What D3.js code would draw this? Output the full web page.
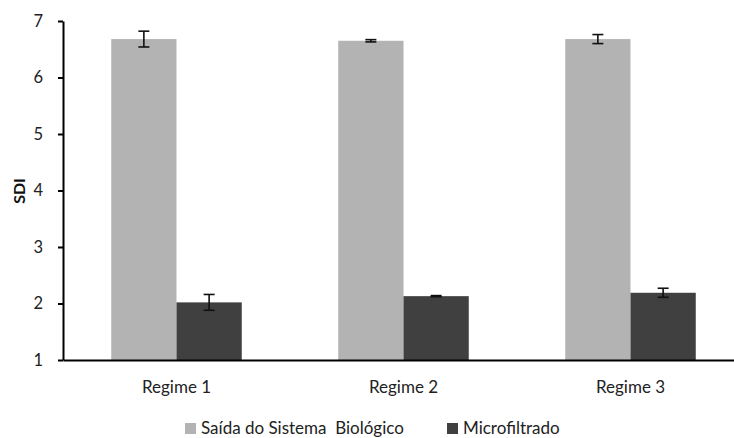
<!DOCTYPE html>
<html>
<head>
<meta charset="utf-8">
<script src="https://cdn.jsdelivr.net/npm/d3@7"></script>
<style>
  html, body { margin: 0; padding: 0; background: #fff; }
  text { font-family: Lato, "Open Sans", "Liberation Sans", sans-serif; }
</style>
</head>
<body>
<svg id="chart" width="734" height="438"></svg>
<script>
// SDI per operating regime, for the biological system outlet and the microfiltered stream
const categories = ["Regime 1", "Regime 2", "Regime 3"];
const seriesNames = ["Saída do Sistema  Biológico", "Microfiltrado"];
const saidaValues = [6.68, 6.65, 6.68];
const saidaErrors = [0.14, 0.02, 0.08];
const microValues = [2.02, 2.13, 2.19];
const microErrors = [0.14, 0.01, 0.08];
const yTicks = [1, 2, 3, 4, 5, 6, 7];
const colors = ["#b3b3b3", "#404040"];

const svg = d3.select("#chart");
const plotLeft = 63, plotRight = 744, plotTop = 21, plotBottom = 360;

const x0 = d3.scaleBand().domain(categories).range([plotLeft, plotRight]).paddingInner(0.425).paddingOuter(0.2125);
const x1 = d3.scaleBand().domain(seriesNames).range([0, x0.bandwidth()]);
const y = d3.scaleLinear().domain([1, 7]).range([plotBottom, plotTop]);

const rows = categories.map((c, i) => ({
  cat: c,
  items: [
    { name: seriesNames[0], v: saidaValues[i], e: saidaErrors[i], color: colors[0] },
    { name: seriesNames[1], v: microValues[i], e: microErrors[i], color: colors[1] }
  ]
}));

// bars
const groups = svg.append("g").selectAll("g").data(rows).join("g")
  .attr("transform", d => `translate(${x0(d.cat)},0)`);

groups.selectAll("rect").data(d => d.items).join("rect")
  .attr("x", d => x1(d.name))
  .attr("y", d => y(d.v))
  .attr("width", x1.bandwidth())
  .attr("height", d => y(1) - y(d.v))
  .attr("fill", d => d.color);

// error bars
const err = groups.selectAll("g.err").data(d => d.items).join("g").attr("class", "err")
  .attr("stroke", "#111").attr("stroke-width", 1.6);
err.append("line")
  .attr("x1", d => x1(d.name) + x1.bandwidth() / 2)
  .attr("x2", d => x1(d.name) + x1.bandwidth() / 2)
  .attr("y1", d => y(d.v + d.e))
  .attr("y2", d => y(d.v - d.e));
[1, -1].forEach(s => {
  err.append("line")
    .attr("x1", d => x1(d.name) + x1.bandwidth() / 2 - 5.5)
    .attr("x2", d => x1(d.name) + x1.bandwidth() / 2 + 5.5)
    .attr("y1", d => y(d.v + s * d.e))
    .attr("y2", d => y(d.v + s * d.e));
});

// y axis
const yAxis = svg.append("g").attr("transform", `translate(${plotLeft},0)`)
  .call(d3.axisLeft(y).tickValues(yTicks).tickFormat(d3.format("d")).tickSize(5).tickSizeOuter(0).tickPadding(15));
yAxis.select(".domain").attr("stroke", "#000").attr("stroke-width", 2);
yAxis.selectAll(".tick line").attr("stroke", "#000").attr("stroke-width", 2);
yAxis.selectAll(".tick text").attr("font-size", 16.5).attr("fill", "#222")
  .style("font-family", "Lato, 'Open Sans', sans-serif");

// x axis
const xAxis = svg.append("g").attr("transform", `translate(0,${plotBottom})`)
  .call(d3.axisBottom(x0).tickSize(0).tickPadding(21));
xAxis.select(".domain").attr("stroke", "#000").attr("stroke-width", 2);
xAxis.selectAll(".tick text").attr("font-size", 17).attr("fill", "#222")
  .style("font-family", "Lato, 'Open Sans', sans-serif");

// y axis title
svg.append("text")
  .attr("transform", `translate(25,191) rotate(-90)`)
  .attr("text-anchor", "middle")
  .attr("font-size", 16)
  .attr("font-weight", "bold")
  .attr("fill", "#111")
  .text("SDI");

// legend
const legendPos = [185, 447];
const legend = svg.append("g").selectAll("g").data(seriesNames).join("g")
  .attr("transform", (d, i) => `translate(${legendPos[i]},423)`);
legend.append("rect").attr("width", 11).attr("height", 11).attr("fill", (d, i) => colors[i]);
legend.append("text").attr("x", 16).attr("y", 10.5)
  .attr("font-size", 17).attr("fill", "#222")
  .attr("xml:space", "preserve").style("white-space", "pre")
  .text(d => d);
</script>
</body>
</html>
